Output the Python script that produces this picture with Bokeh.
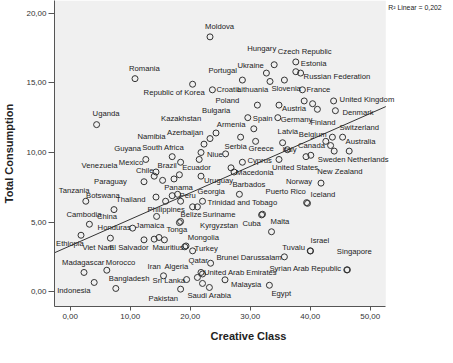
from bokeh.plotting import figure
from bokeh.models import ColumnDataSource, FixedTicker, CustomJSTickFormatter, Label, Range1d, BoxAnnotation
from bokeh.core.properties import value
from bokeh.embed import file_html
from bokeh.resources import INLINE

# ---- data ----
country = [
    "Moldova", "Romania", "Hungary", "Czech Republic", "Estonia", "Russian Federation",
    "Ukraine", "Portugal", "Lithuania", "Slovenia", "Republic of Korea", "Croatia",
    "France", "Poland", "Austria", "", "", "Finland", "United Kingdom", "Denmark",
    "Uganda", "Spain", "Germany", "Switzerland", "Australia", "Bulgaria", "Armenia",
    "Kazakhstan", "Azerbaijan", "Serbia", "Latvia", "Greece", "Belgium", "Italy",
    "Canada", "Sweden", "", "New Zealand", "Netherlands", "Niue", "", "Ecuador",
    "Cyprus", "United States", "", "Macedonia", "Uruguay", "Barbados", "Norway",
    "Georgia", "", "Puerto Rico", "Iceland", "Trinidad and Tobago", "Peru", "Panama",
    "Thailand", "Philippines", "", "Tanzania", "Botswana", "Paraguay", "Chile",
    "Brazil", "Mexico", "South Africa", "Guyana", "Venezuela", "Namibia", "",
    "Cambodia", "China", "Honduras", "Jamaica", "Tonga", "Belize", "Ethiopia",
    "Viet Nam", "El Salvador", "", "Mauritius", "Mongolia", "Suriname", "Cuba",
    "Malta", "Kyrgyzstan", "Turkey", "Qatar", "Brunei Darussalam", "Tuvalu", "Israel",
    "Singapore", "Syrian Arab Republic", "Madagascar", "Morocco", "Indonesia",
    "Bangladesh", "Iran", "Algeria", "Sri Lanka", "Pakistan", "United Arab Emirates",
    "", "Saudi Arabia", "", "Malaysia", "Egypt",
]
creative_class = [
    23.3, 10.8, 34.0, 37.6, 37.6, 38.4,
    32.7, 28.7, 33.3, 35.7, 20.4, 23.7,
    38.7, 31.2, 34.8, 39.0, 40.4, 41.2, 43.9, 44.2,
    4.4, 29.6, 34.6, 43.7, 45.4, 24.3, 30.6,
    23.3, 22.3, 28.4, 35.4, 30.9, 42.6, 36.2,
    39.3, 40.1, 43.4, 44.0, 46.5, 21.8, 25.9, 21.5,
    28.7, 34.8, 26.8, 27.3, 21.8, 28.2, 41.8,
    21.2, 20.4, 39.4, 39.55, 22.05, 17.9, 17.0,
    14.3, 15.9, 18.4, 2.6, 7.3, 12.3, 14.3,
    18.4, 12.6, 17.0, 14.0, 15.4, 18.2, 17.3,
    3.2, 12.3, 10.4, 14.4, 18.2, 18.4, 1.8,
    6.7, 14.0, 14.8, 15.7, 19.1, 31.9, 32.05,
    33.55, 19.3, 20.4, 23.4, 35.7, 40.0, 40.05,
    46.1, 46.2, 2.3, 6.1, 4.0,
    7.6, 15.55, 21.2, 19.4, 18.4, 21.8,
    22.05, 23.2, 22.05, 25.8, 33.2,
]
total_consumption = [
    18.3, 15.3, 16.3, 16.5, 15.8, 15.7,
    15.7, 15.2, 15.1, 15.2, 14.9, 14.5,
    14.5, 13.4, 13.4, 13.7, 13.5, 13.1, 13.7, 13.0,
    12.0, 12.5, 12.5, 11.1, 11.1, 11.4, 11.7,
    11.0, 10.6, 11.1, 10.7, 10.8, 10.8, 10.2,
    9.7, 9.8, 10.5, 10.1, 10.1, 10.0, 9.9, 9.5,
    9.3, 9.5, 8.9, 8.6, 8.3, 7.0, 7.8,
    6.1, 6.1, 6.4, 6.35, 6.5, 7.0, 6.9,
    6.8, 6.5, 6.5, 6.5, 5.9, 7.9, 8.6,
    9.3, 9.5, 9.7, 8.3, 8.0, 8.4, 8.1,
    4.85, 3.73, 4.57, 5.41, 4.97, 5.05, 4.06,
    3.85, 3.78, 3.9, 3.73, 3.23, 5.52, 5.57,
    4.31, 3.29, 2.94, 2.05, 2.51, 2.94, 2.93,
    1.57, 1.58, 1.39, 1.55, 0.67,
    0.24, 1.15, 1.03, 0.88, 0.19, 1.39,
    1.28, 0.31, 0.6, 0.86, 0.47,
]
# linear fit shown in the chart (R² = 0.202)
fit_intercept = 3.3
fit_slope = 0.19
x_ticks = [0, 10, 20, 30, 40, 50]
y_ticks = [0, 5, 10, 15, 20]
x_title = "Creative Class"
y_title = "Total Consumption"
r2_text = "R\u00b2 Linear = 0,202"

# ---- label placement (screen px offsets from each point; layout only) ----
label_dx = [
    -5, -6, -27, -18, 5, 3,
    -29, -34, -33, -13, -49, 4,
    4, -42, 3, 0, 0, -7, 6, 7,
    -4, 5, 3, 7, 3, -14, -37,
    -49, -37, -16, -5, -7, -27, -5,
    -8, 7, 0, -17, -2, 6, 0, -17,
    5, -7, 0, 2, 3, -7, -35,
    0, 0, -41, 3, 5, 2, -8,
    -40, -18, 0, -27, -28, -50, -20,
    -23, -27, -30, -40, -81, -42, 0,
    -23, -47, -35, -21, -13, 0, -25,
    -28, -45, 0, -12, 3, -59, -20,
    -1, 14, 2, -22, -68, -28, 0,
    -10, -78, -22, -1, -37,
    -7, -16, -33, -34, -32, 3,
    0, -22, 0, 6, 2,
]
label_dy = [
    -10, -10, -16, -10, -8, 3,
    -8, -10, 8, 8, 8, 0,
    0, -5, 3, 0, 0, 13, -1, 2,
    -11, 1, 2, -10, 4, -22, -4,
    -20, -12, 9, -11, 7, -7, 0,
    -11, 4, 0, 20, 8, 2, 0, 8,
    -2, 8, 0, 1, 4, -10, -2,
    -15, 0, -11, -9, 1, 1, -8,
    2, 8, 0, -11, -14, 0, -1,
    3, 3, -9, -28, -15, -38, 0,
    -10, -23, -1, 9, 7, -7, 8,
    9, 8, 0, 8, -9, 0, 9,
    -10, -20, -2, -3, 1, -3, -10,
    -18, -1, -10, -8, 8,
    -10, -9, -11, 1, 9, 0,
    0, 8, 0, 5, 8,
]

# axis extents (plot area); frame extends right to hold the R² note
X0, X1 = -2.617, 52.6
XF = X0 + 388 / 6.0
Y0, Y1 = -1.055, 20.91

src = ColumnDataSource(dict(x=creative_class, y=total_consumption, name=country,
                            dx=label_dx, dy=label_dy))

p = figure(frame_width=388, frame_height=306,
           x_range=Range1d(X0, XF), y_range=Range1d(Y0, Y1),
           output_backend="svg", toolbar_location=None,
           min_border_left=49, min_border_right=0, min_border_top=0, min_border_bottom=41)
p.title.visible = False
p.background_fill_color = "white"
p.border_fill_color = "white"
p.outline_line_color = None
p.grid.visible = False

p.add_layout(BoxAnnotation(left=X0, right=X1, fill_color="#f0f0f0", fill_alpha=1.0,
                           line_color=None, level="underlay"))

fmt = CustomJSTickFormatter(code="return tick.toFixed(2).replace('.', ',')")
for ax, ticks in ((p.xaxis, x_ticks), (p.yaxis, y_ticks)):
    ax.ticker = FixedTicker(ticks=ticks)
    ax.formatter = fmt
    ax.axis_line_color = "#555555"
    ax.major_tick_line_color = "#555555"
    ax.minor_tick_line_color = None
    ax.major_tick_in = 0
    ax.major_label_text_font = "Liberation Sans"
    ax.major_label_text_font_size = "8px"
    ax.major_label_text_color = "#333333"
    ax.axis_label_text_font = "Liberation Sans"
    ax.axis_label_text_font_size = "11px"
    ax.axis_label_text_font_style = "bold"
    ax.axis_label_text_color = "#222222"

p.xaxis.bounds = (X0, X1)
p.xaxis.axis_label = x_title
p.yaxis.axis_label = y_title
p.xaxis.major_tick_out = 4
p.yaxis.major_tick_out = 6
p.xaxis.major_label_standoff = 3
p.yaxis.major_label_standoff = 2
p.xaxis.axis_label_standoff = 8
p.yaxis.axis_label_standoff = 8

# linear fit line across the plot area
p.line([X0, X1], [fit_intercept + fit_slope * X0, fit_intercept + fit_slope * X1],
       line_color="#333333", line_width=1)

p.scatter("x", "y", source=src, marker="circle", size=6, fill_alpha=0,
          line_color="#333333", line_width=1)

p.text("x", "y", text="name", source=src, x_offset="dx", y_offset="dy",
       text_font=value("Liberation Sans"), text_font_size="7.7px",
       text_color="#222222", text_align="left", text_baseline="middle")

p.add_layout(Label(x=53.0, y=20.41, text=r2_text,
                   text_font="Liberation Sans", text_font_size="6.9px",
                   text_color="#222222", text_baseline="middle", text_align="left"))

open("out.html", "w").write(file_html(p, INLINE))
